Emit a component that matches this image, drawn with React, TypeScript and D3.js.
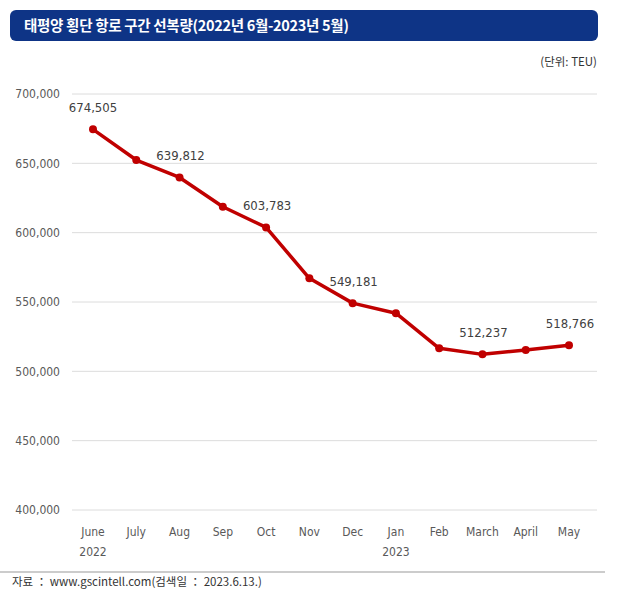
import React from "react";
import * as d3 from "d3";

const months = ["June", "July", "Aug", "Sep", "Oct", "Nov", "Dec", "Jan", "Feb", "March", "April", "May"];
const yearLabels = ["2022", "", "", "", "", "", "", "2023", "", "", "", ""];
const values = [674505, 652400, 639812, 618700, 603783, 567100, 549181, 541900, 516600, 512237, 515400, 518766];
const showLabel = [true, false, true, false, true, false, true, false, false, true, false, true];
const yTicks = [400000, 450000, 500000, 550000, 600000, 650000, 700000];

const W = 623;
const H = 594;
const FONT = "'DejaVu Sans', sans-serif";
const KFONT = "'Noto Sans CJK KR', 'Noto Sans', sans-serif";
const narrow: React.CSSProperties = { fontStretch: "condensed" };

export default function App() {
  const x = d3.scalePoint<string>().domain(months).range([93, 569]);
  const y = d3.scaleLinear().domain([400000, 700000]).range([510, 94]);
  const fmt = d3.format(",");
  const line = d3
    .line<number>()
    .x((_, i) => x(months[i]) as number)
    .y((d) => y(d));

  return (
    <svg
      width={W}
      height={H}
      style={{ position: "absolute", left: 0, top: 0, background: "#fff" }}
    >
      <rect x={0} y={0} width={W} height={H} fill="#fff" />
      <rect x={10} y={10} width={588} height={31} rx={6} fill="#0e3486" />
      <text x={24} y={31} fill="#fff" fontFamily={KFONT} fontWeight={600} fontSize={14.5} letterSpacing={-0.3}>
        태평양 횡단 항로 구간 선복량(2022년 6월-2023년 5월)
      </text>
      <text x={597} y={66} textAnchor="end" fill="#333" fontFamily={KFONT} fontSize={11.5}>
        (단위: TEU)
      </text>

      {yTicks.map((t) => (
        <g key={t}>
          <line x1={72} x2={597} y1={y(t)} y2={y(t)} stroke="#dcdcdc" strokeWidth={1} />
          <text
            x={60}
            y={y(t)}
            dy="0.35em"
            textAnchor="end"
            fill="#595959"
            fontFamily={FONT}
            fontSize={12}
            style={narrow}
          >
            {fmt(t)}
          </text>
        </g>
      ))}

      {months.map((m, i) => (
        <g key={m}>
          <text
            x={x(m)}
            y={536}
            textAnchor="middle"
            fill="#595959"
            fontFamily={FONT}
            fontSize={12}
            style={narrow}
          >
            {m}
          </text>
          {yearLabels[i] && (
            <text
              x={x(m)}
              y={556}
              textAnchor="middle"
              fill="#595959"
              fontFamily={FONT}
              fontSize={12}
              style={narrow}
            >
              {yearLabels[i]}
            </text>
          )}
        </g>
      ))}

      <path d={line(values) || ""} fill="none" stroke="#c00000" strokeWidth={3.5} strokeLinejoin="round" />
      {values.map((v, i) => (
        <circle key={i} cx={x(months[i])} cy={y(v)} r={4} fill="#c00000" />
      ))}
      {values.map((v, i) =>
        showLabel[i] ? (
          <text
            key={"l" + i}
            x={x(months[i]) + (i === 0 ? 0 : 1)}
            y={y(v) - 17}
            textAnchor="middle"
            fill="#404040"
            fontFamily={FONT}
            fontSize={13}
            style={narrow}
          >
            {fmt(v)}
          </text>
        ) : null
      )}

      <line x1={0} x2={605} y1={572} y2={572} stroke="#999" strokeWidth={1} />
      <text x={12} y={586} fill="#333" fontFamily={KFONT} fontSize={11.5} xmlSpace="preserve">
        자료 ： www.gscintell.com(검색일 ： 2023.6.13.)
      </text>
    </svg>
  );
}
